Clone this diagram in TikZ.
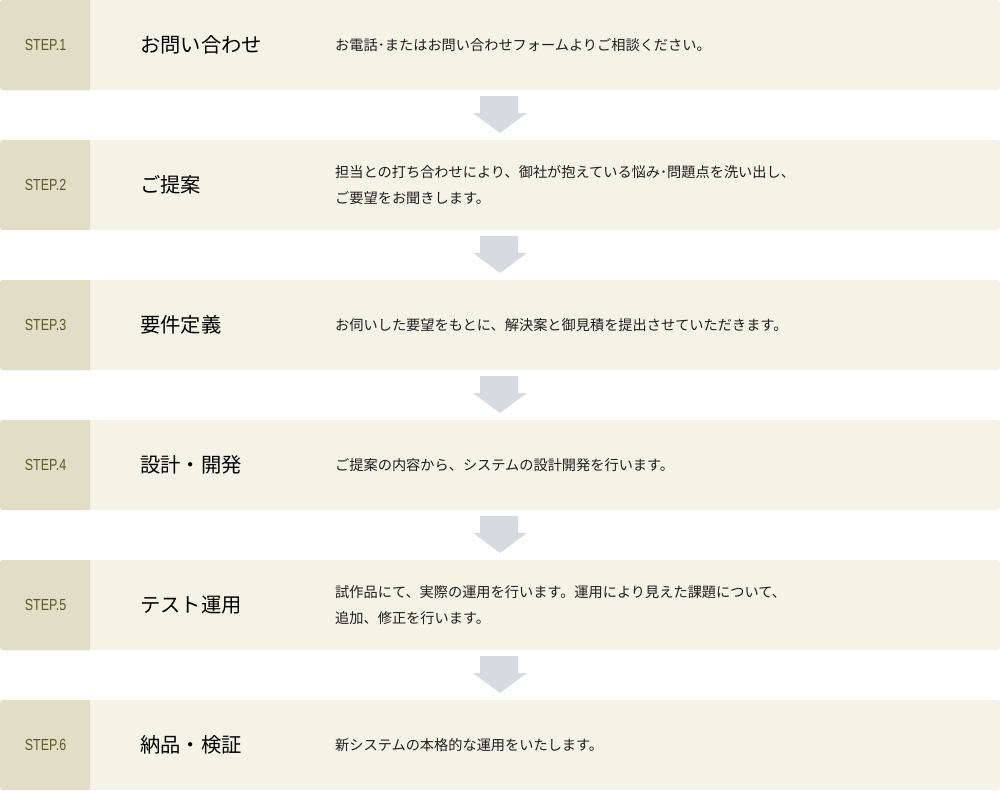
\documentclass[tikz,border=0pt]{standalone}
\usepackage{fontspec}
\setmainfont{Liberation Sans}
\newfontfamily\jp{Noto Sans CJK JP}
\newfontfamily\stepfont[FakeStretch=0.78]{Liberation Sans}
\definecolor{leftFill}{HTML}{E1DDC7}
\definecolor{rightFill}{HTML}{F5F3E6}
\definecolor{stepcol}{HTML}{5F5826}
\definecolor{arrowcol}{HTML}{D7DBE1}
\definecolor{txt}{HTML}{1E1E1E}
\tikzset{
  rowbox/.style={rounded corners=3pt, fill=rightFill, draw=none},
  leftbox/.style={fill=leftFill, draw=none},
  steplabel/.style={font=\stepfont\fontsize{16}{17}\selectfont, text=stepcol, anchor=center, inner sep=0pt},
  titlelabel/.style={font=\jp\fontsize{20.3}{22}\selectfont, text=black, anchor=west, inner sep=0pt},
  desclabel/.style={font=\jp\fontsize{14.2}{26}\selectfont, text=txt, anchor=west, inner sep=0pt, align=left},
  flowarrow/.style={fill=arrowcol, draw=none}
}
\begin{document}
\begin{tikzpicture}[x=1pt,y=-1pt]
\useasboundingbox (0,0) rectangle (1000,790);
\foreach \i/\st/\ti/\de in {
 1/STEP.1/お問い合わせ/お電話･またはお問い合わせフォームよりご相談ください。,
 2/STEP.2/ご提案/{担当との打ち合わせにより、御社が抱えている悩み･問題点を洗い出し、\\ご要望をお聞きします。},
 3/STEP.3/要件定義/お伺いした要望をもとに、解決案と御見積を提出させていただきます。,
 4/STEP.4/設計・開発/ご提案の内容から、システムの設計開発を行います。,
 5/STEP.5/テスト運用/{試作品にて、実際の運用を行います。運用により見えた課題について、\\追加、修正を行います。},
 6/STEP.6/納品・検証/新システムの本格的な運用をいたします。}
{
  \pgfmathsetmacro{\top}{140*(\i-1)}
  \pgfmathsetmacro{\bot}{\top+90}
  \pgfmathsetmacro{\mid}{\top+45}
  \fill[rowbox] (0,\top) rectangle (1000,\bot);
  \fill[leftbox, rounded corners=3pt] (0,\top) rectangle (90,\bot);
  \fill[leftbox] (80,\top) rectangle (90,\bot);
  \node[steplabel] (step\i) at (45.5,\mid) {\st};
  \node[titlelabel] (title\i) at (140,\mid) {\ti};
  \node[desclabel] (desc\i) at (335,\mid) {\de};
}
\foreach \i in {1,...,5}{
  \pgfmathsetmacro{\a}{140*(\i-1)+96}
  \pgfmathsetmacro{\b}{140*(\i-1)+113}
  \pgfmathsetmacro{\c}{140*(\i-1)+133}
  \fill[flowarrow] (480,\a) -- (518,\a) -- (518,\b) -- (527,\b) -- (500,\c) -- (473,\b) -- (480,\b) -- cycle;
}
\end{tikzpicture}
\end{document}
